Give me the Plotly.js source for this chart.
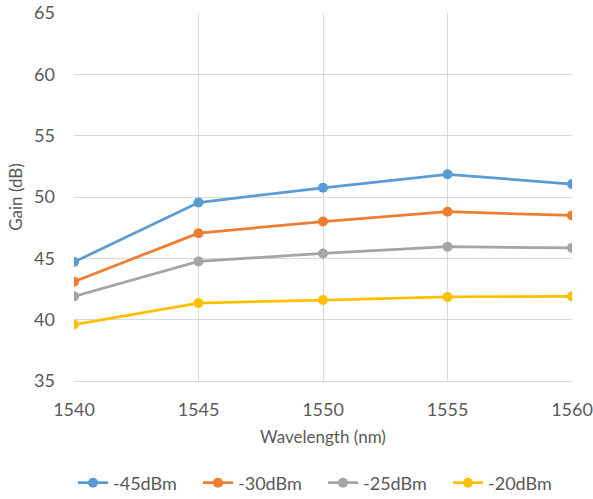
<!DOCTYPE html>
<html>
<head>
<meta charset="utf-8">
<script src="https://cdn.plot.ly/plotly-3.0.1.min.js"></script>
<style>html,body{margin:0;padding:0;background:#fff;}#chart{width:593px;height:499px;}</style>
</head>
<body>
<div id="chart"></div>
<script>
var wavelengths = [1540, 1545, 1550, 1555, 1560];
var seriesNames = ["-45dBm", "-30dBm", "-25dBm", "-20dBm"];
var gain45 = [44.7, 49.55, 50.75, 51.85, 51.05];
var gain30 = [43.1, 47.05, 48.0, 48.8, 48.5];
var gain25 = [41.9, 44.75, 45.4, 45.95, 45.85];
var gain20 = [39.6, 41.35, 41.6, 41.85, 41.9];
var colors = ["#5B9BD5", "#ED7D31", "#A5A5A5", "#FFC000"];

var allSeries = [gain45, gain30, gain25, gain20];
var traces = allSeries.map(function (vals, i) {
  return {
    x: wavelengths,
    y: vals,
    name: seriesNames[i],
    type: "scatter",
    mode: "lines+markers",
    line: {color: colors[i], width: 2.75},
    marker: {color: colors[i], size: 10}
  };
});

var layout = {
  width: 593,
  height: 499,
  margin: {l: 74, r: 21, t: 13, b: 118, autoexpand: false},
  paper_bgcolor: "#fff",
  plot_bgcolor: "#fff",
  font: {family: "Lato, Carlito, 'Open Sans', sans-serif", color: "#595959", size: 18},
  showlegend: true,
  xaxis: {
    range: [1540, 1560],
    tickvals: [1540, 1545, 1550, 1555, 1560],
    showgrid: true,
    gridcolor: "#d9d9d9",
    gridwidth: 1,
    zeroline: false,
    showline: true,
    linecolor: "#d9d9d9",
    linewidth: 1,
    ticks: "",
    ticklabelstandoff: 12,
    tickfont: {size: 18, color: "#595959"},
    title: {text: "Wavelength (nm)", font: {size: 17, color: "#595959"}, standoff: 12},
    automargin: false
  },
  yaxis: {
    range: [35, 65],
    tickvals: [35, 40, 45, 50, 55, 60, 65],
    showgrid: true,
    gridcolor: "#d9d9d9",
    gridwidth: 1,
    zeroline: false,
    showline: false,
    ticks: "",
    ticklabelstandoff: 18,
    tickfont: {size: 18, color: "#595959"},
    title: {text: "Gain (dB)", font: {size: 17, color: "#595959"}, standoff: 7},
    automargin: false
  },
  legend: {
    orientation: "h",
    x: 0.5,
    xanchor: "center",
    yref: "container",
    y: 0.032,
    yanchor: "middle",
    font: {size: 18, color: "#595959"},
    itemwidth: 30,
    entrywidth: 80,
    entrywidthmode: "pixels",
    traceorder: "normal"
  }
};

Plotly.newPlot("chart", traces, layout, {displayModeBar: false, staticPlot: true});
</script>
</body>
</html>
